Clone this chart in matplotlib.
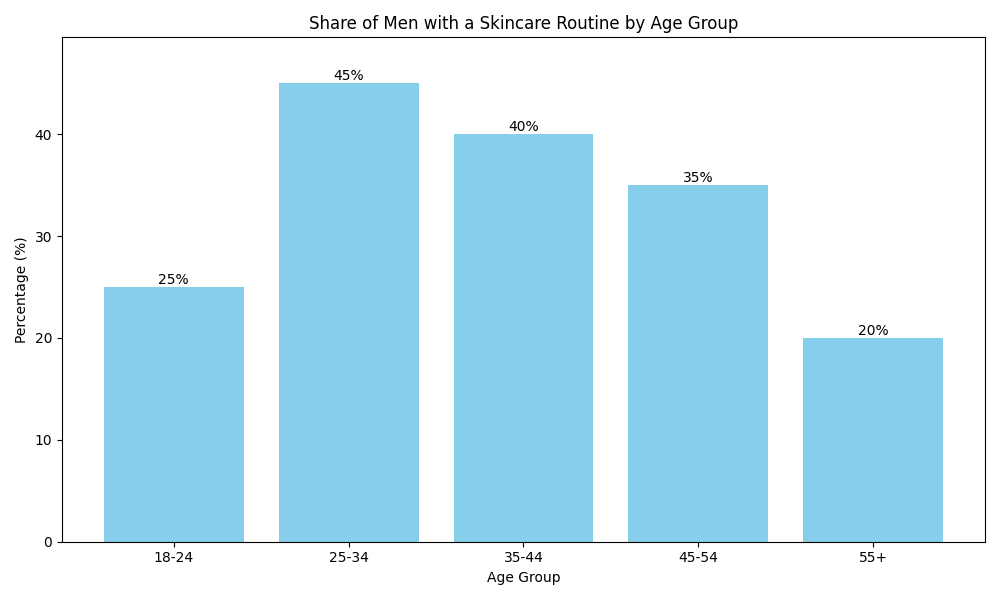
import matplotlib.pyplot as plt

age_groups = ['18-24', '25-34', '35-44', '45-54', '55+']
percentages = [25, 45, 40, 35, 20]

fig, ax = plt.subplots(figsize=(10, 6), dpi=100)
bars = ax.bar(age_groups, percentages, color='skyblue')
for b, v in zip(bars, percentages):
    ax.text(b.get_x() + b.get_width() / 2, b.get_height(), f'{v}%',
            ha='center', va='bottom')

ax.set_ylim(0, max(percentages) * 1.1)
ax.set_xlabel('Age Group')
ax.set_ylabel('Percentage (%)')
ax.set_title('Share of Men with a Skincare Routine by Age Group')
plt.tight_layout()
plt.savefig('out.png')
